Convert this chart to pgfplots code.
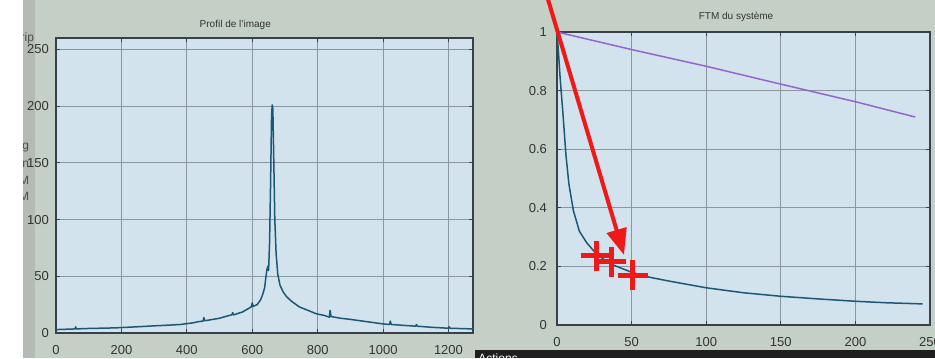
\documentclass[border=0pt]{standalone}
\usepackage{fontspec}
\setmainfont{Liberation Sans}
\usepackage{pgfplots}
\pgfplotsset{compat=1.18}
\usetikzlibrary{arrows.meta}
\definecolor{figbg}{RGB}{196,208,198}
\definecolor{stripbg}{RGB}{180,186,180}
\definecolor{axbg}{RGB}{210,227,237}
\definecolor{gridc}{RGB}{140,150,158}
\definecolor{axc}{RGB}{55,65,75}
\definecolor{curve}{RGB}{28,88,118}
\definecolor{purp}{RGB}{150,100,205}
\definecolor{redm}{RGB}{240,25,25}
\pgfplotsset{
  myax/.style={
    scale only axis,
    anchor=south west,
    axis background/.style={fill=axbg},
    axis line style={axc, line width=0.6pt},
    grid=major,
    major grid style={gridc, line width=0.4pt},
    tick style={axc, line width=0.4pt},
    major tick length=2pt,
    tick align=inside,
    ticklabel style={font=\fontsize{6.5}{7}\selectfont, text=black!80},
    /pgf/number format/assume math mode=true,
    /pgf/number format/set thousands separator={},
    xticklabel style={yshift=-2.5pt},
    clip=false,
  }
}
\begin{document}
\begin{tikzpicture}
\path[use as bounding box] (0,0) rectangle (467.5pt,179pt);
\fill[figbg] (0,0) rectangle (467.5pt,179pt);
\fill[stripbg] (11.5pt,0) rectangle (17.5pt,179pt);
\begin{scope}[every node/.style={font=\fontsize{6}{7}\selectfont, text=black!70, anchor=east, inner sep=0.3pt}]
\node at (17.5pt,160pt) {rip};
\node at (15pt,105pt) {g};
\node at (15pt,97pt) {n};
\node at (15pt,89pt) {M};
\node at (15pt,81pt) {M};
\end{scope}
\fill[white] (0,0) rectangle (11.5pt,179pt);

\begin{axis}[myax,
  at={(28pt,12.5pt)}, width=208.5pt, height=147.5pt,
  xmin=0, xmax=1275, ymin=0, ymax=260,
  xtick={0,200,...,1200}, ytick={0,50,...,250},
  title={Profil de l'image},
  every axis title/.style={at={(0.43,1)}, anchor=south, yshift=0.5pt, font=\fontsize{5}{6}\selectfont, text=black!80},
]
\addplot[curve, line width=0.75pt, line join=round] coordinates {
(0,3) (20,3.2) (50,3.5) (59,3.6) (60,5.5) (62,3.6) (100,4) (150,4.3) (180,4.5)
(250,5.5) (300,6.3) (350,7) (380,7.5) (420,9) (435,10) (450,10.5) (452,13.5)
(455,10.8) (500,13) (530,15.5) (538,16) (540,18) (543,16) (570,18.5) (585,21)
(597,23) (600,26.5) (603,23.5) (615,25) (625,29) (632,34) (638,40) (642,50)
(645,56) (648,59) (650,55) (653,80) (656,130) (659,190) (661,201) (663,198)
(666,150) (669,100) (673,70) (678,52) (685,42) (695,36) (705,32) (720,28)
(744,23) (770,20) (795,17) (820,15.5) (836,14) (838,20) (841,14.5) (870,13)
(900,12) (950,10) (1000,8) (1020,7.5) (1022,10.5) (1025,7.5) (1050,7)
(1100,6) (1102,7.5) (1105,6) (1150,5) (1200,4.2) (1202,5.5) (1205,4.2) (1250,3.8) (1275,3.6)
};
\end{axis}

\begin{axis}[myax,
  at={(278.5pt,16.5pt)}, width=186.5pt, height=146.5pt,
  xmin=0, xmax=250, ymin=0, ymax=1,
  xtick={0,50,...,250}, ytick={0,0.2,...,1},
  yticklabel style={xshift=-1.5pt},
  title={FTM du syst\`eme},
  every axis title/.style={at={(0.48,1)}, anchor=south, yshift=1.5pt, font=\fontsize{5}{6}\selectfont, text=black!80},
]
\addplot[purp, line width=0.75pt] coordinates {
(0,1) (50,0.94) (100,0.883) (150,0.822) (200,0.762) (240,0.71)
};
\addplot[curve, line width=0.75pt, line join=round] coordinates {
(0,1) (1,0.93) (2,0.85) (4,0.72) (6,0.58) (8,0.48) (11,0.39) (15,0.32)
(20,0.28) (26,0.245) (35,0.21) (50,0.18) (62,0.163) (75,0.15) (100,0.127)
(125,0.11) (150,0.098) (175,0.089) (200,0.081) (220,0.076) (245,0.072)
};
\addplot[redm, only marks, mark=+, mark size=7.5pt, line width=2.5pt] coordinates {
(26.3,0.236) (36.3,0.216) (50.8,0.17)
};
\addplot[redm, line width=2pt, -{Triangle[length=13pt,width=10pt]}] coordinates {
(-8,1.145) (44.9,0.239)
};
\end{axis}

\fill[black!88] (237.5pt,0) rectangle (467.5pt,4pt);
\node[font=\fontsize{6}{7}\selectfont, text=white, anchor=south west, inner sep=0pt] at (239pt,-2.5pt) {Actions};
\end{tikzpicture}
\end{document}
